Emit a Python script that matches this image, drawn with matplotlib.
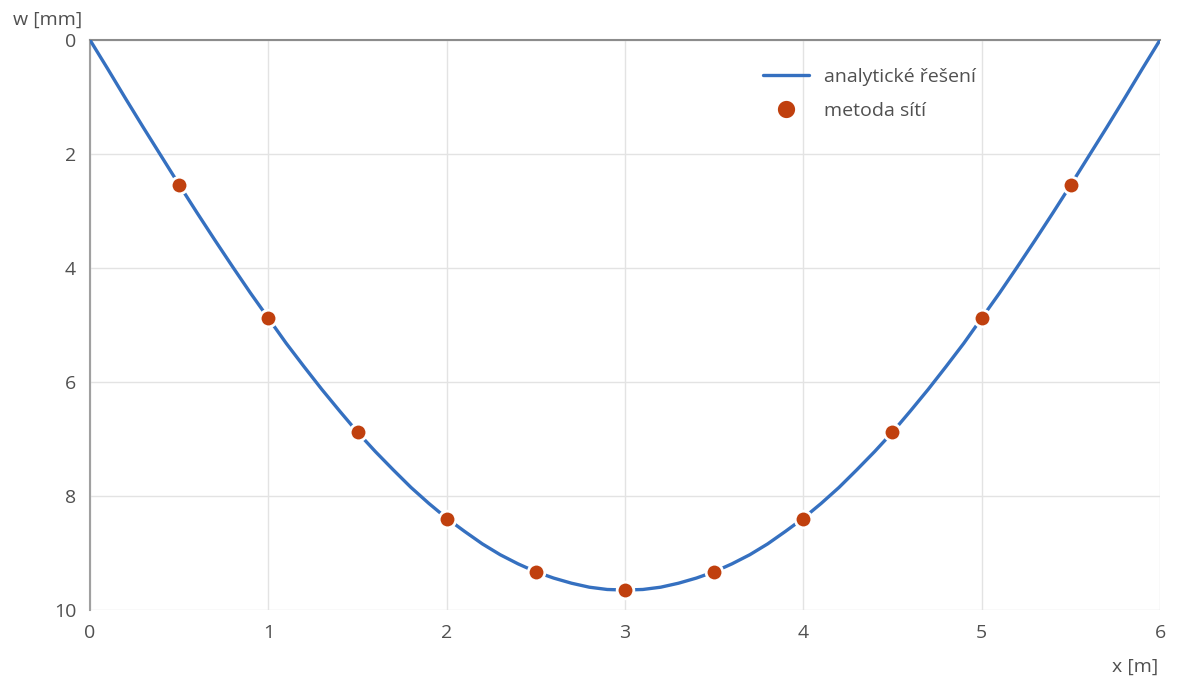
import matplotlib
matplotlib.use("Agg")
import matplotlib.pyplot as plt

# analytic curve, every 0.1 m
x_curve = [i / 10 for i in range(61)]
w_curve = [0.00, 0.51, 1.03, 1.54, 2.04, 2.54, 3.03, 3.51, 3.98, 4.44,
           4.88, 5.32, 5.73, 6.13, 6.51, 6.88, 7.22, 7.54, 7.85, 8.13,
           8.39, 8.62, 8.84, 9.03, 9.19, 9.33, 9.44, 9.53, 9.60, 9.64,
           9.65,
           9.64, 9.60, 9.53, 9.44, 9.33, 9.19, 9.03, 8.84, 8.62, 8.39,
           8.13, 7.85, 7.54, 7.22, 6.88, 6.51, 6.13, 5.73, 5.32, 4.88,
           4.44, 3.98, 3.51, 3.03, 2.54, 2.04, 1.54, 1.03, 0.51, 0.00]

# finite difference points
x_pts = [0.5, 1, 1.5, 2, 2.5, 3, 3.5, 4, 4.5, 5, 5.5]
w_pts = [2.55, 4.88, 6.88, 8.40, 9.33, 9.65, 9.33, 8.40, 6.88, 4.88, 2.55]

x_ticks = [0, 1, 2, 3, 4, 5, 6]
y_ticks = [0, 2, 4, 6, 8, 10]

plt.rcParams['font.family'] = ['Open Sans', 'DejaVu Sans']
txt = '#505050'
fs = 14

fig = plt.figure(figsize=(12, 7), dpi=100)
ax = fig.add_axes([90 / 1200, 90 / 700, 1070 / 1200, 570 / 700])

ax.plot(x_curve, w_curve, color='#3570C0', lw=2.4, label='analytické řešení',
        solid_capstyle='round', zorder=3)
ax.plot(x_pts, w_pts, 'o', color='#C0400E', ms=12, mec='white', mew=2,
        label='metoda sítí', zorder=4)

ax.set_xlim(0, 6)
ax.set_ylim(10, 0)
ax.set_xticks(x_ticks)
ax.set_yticks(y_ticks)
ax.grid(color='#e3e3e3', lw=1)
ax.set_axisbelow(True)
ax.tick_params(length=0, labelsize=fs, labelcolor=txt, pad=10)

for s in ['right', 'bottom']:
    ax.spines[s].set_visible(False)
ax.spines['top'].set_color('#8c8c8c')
ax.spines['top'].set_linewidth(1.5)
ax.spines['left'].set_color('#a0a0a0')
ax.spines['left'].set_linewidth(1.5)

fig.text(48 / 1200, 1 - 20 / 700, 'w [mm]', ha='center', va='center',
         fontsize=fs, color=txt)
fig.text(1135 / 1200, 1 - 667 / 700, 'x [m]', ha='center', va='center',
         fontsize=fs, color=txt)

leg = ax.legend(loc='upper left', bbox_to_anchor=(745 / 1200, 1 - 50 / 700),
                bbox_transform=fig.transFigure, frameon=False, fontsize=fs,
                handlelength=2.4, labelspacing=0.85, handletextpad=0.75,
                markerscale=1.2)
for t in leg.get_texts():
    t.set_color(txt)

fig.savefig('out.png', dpi=100)
